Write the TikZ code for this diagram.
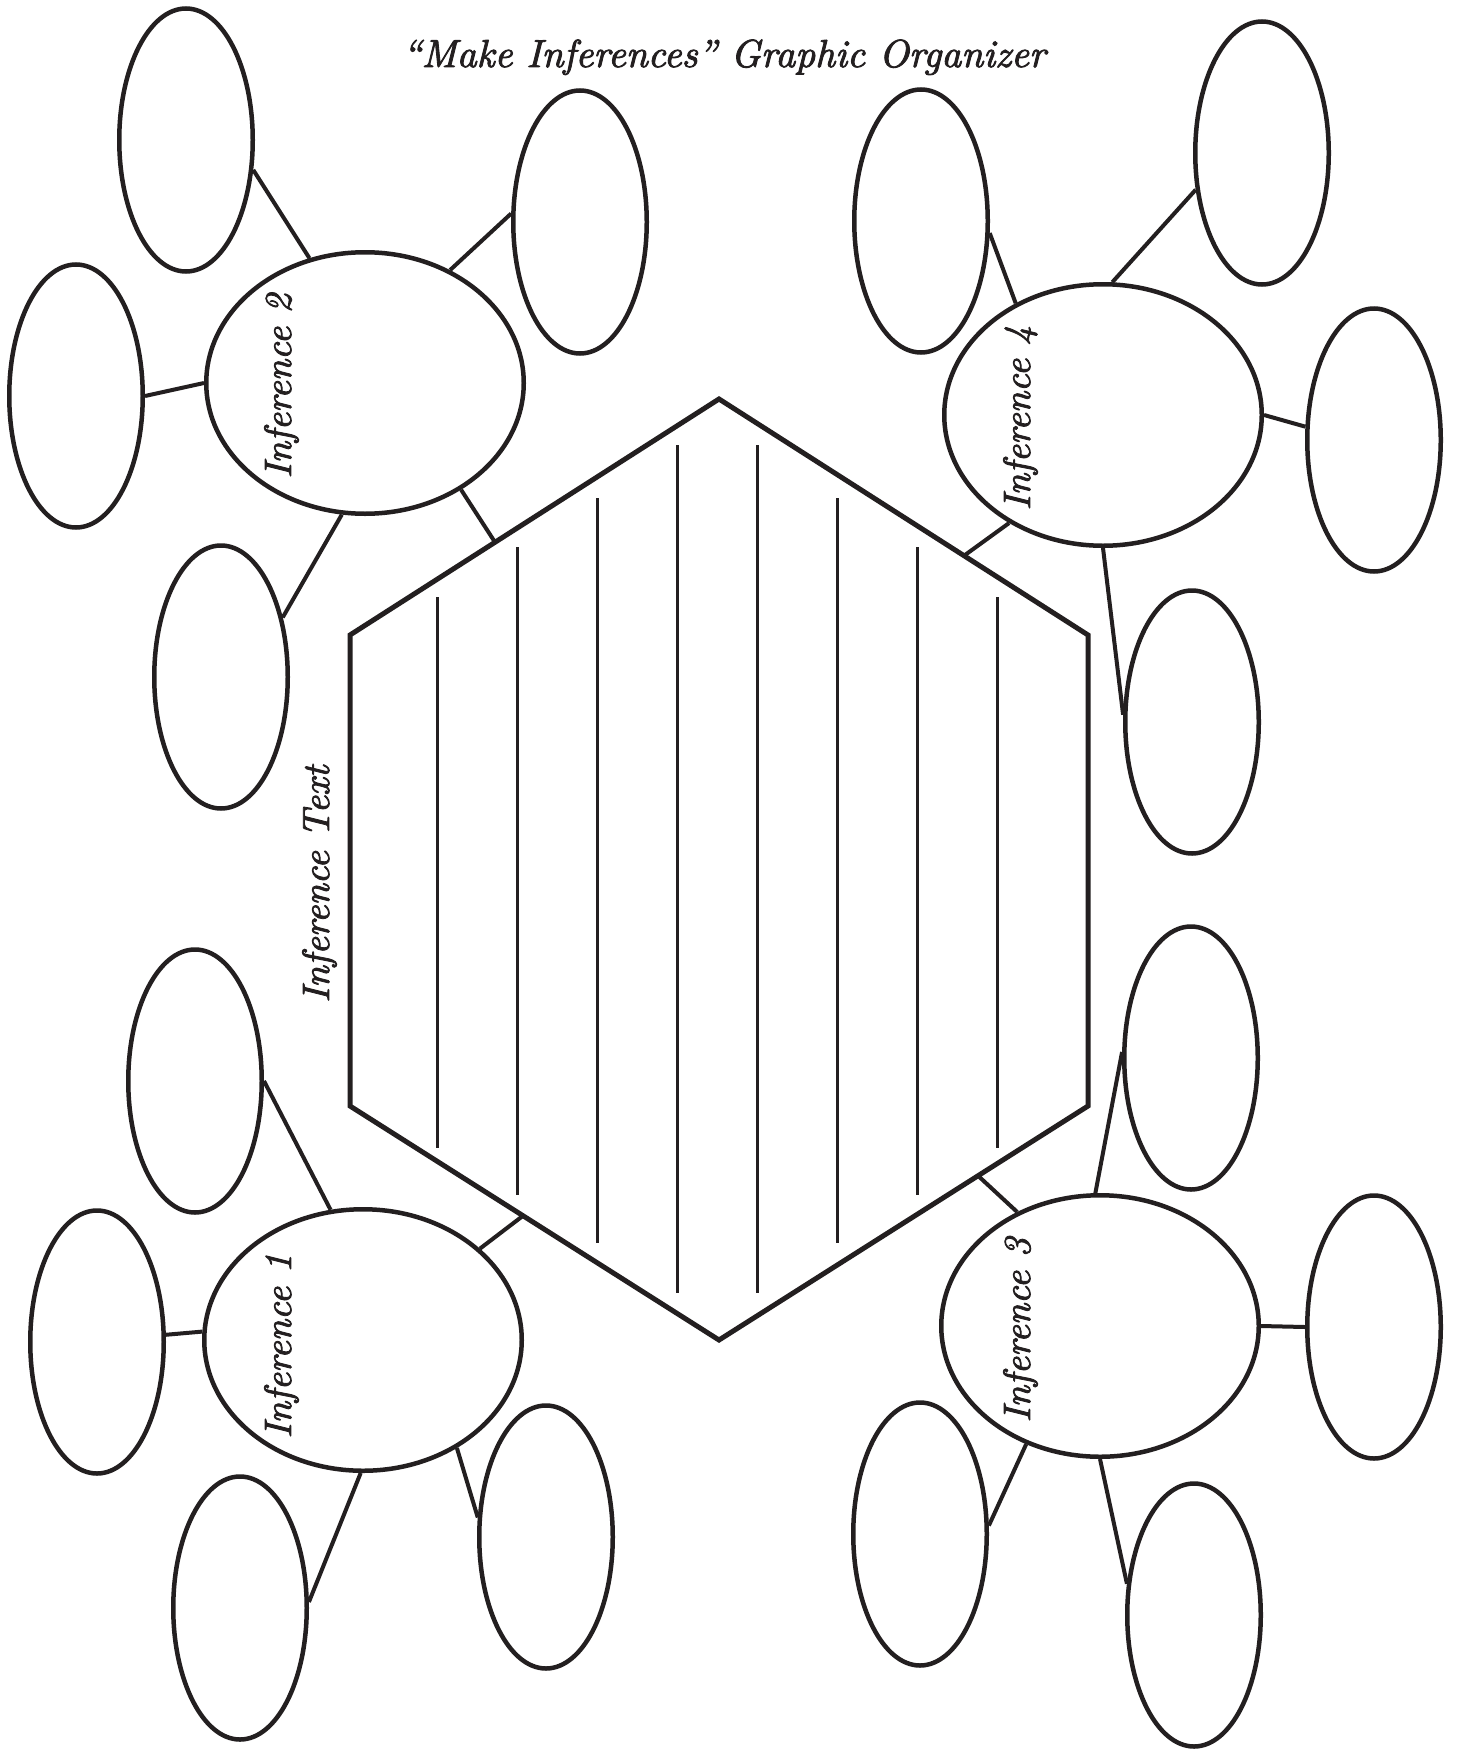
\documentclass[tikz,border=0pt]{standalone}
\usepackage{fontspec}
\newfontface\lblface{lmroman10-italic.otf}[FakeBold=2.2]
\usetikzlibrary{shapes.geometric,calc}
\definecolor{ink}{RGB}{35,31,32}
\begin{document}
\begin{tikzpicture}[x=1pt,y=-1pt,
  small/.style={ellipse,draw=ink,line width=4.5pt,minimum width=133.5pt,minimum height=263pt,inner sep=0pt},
  big/.style={ellipse,draw=ink,line width=4.5pt,minimum width=317.5pt,minimum height=261.5pt,inner sep=0pt},
  conn/.style={draw=ink,line width=4pt},
  lbl/.style={rotate=90,anchor=base,font=\lblface\fontsize{38}{45}\selectfont,text=ink,inner sep=0pt},
  ruling/.style={draw=ink,line width=2.3pt},
  hexline/.style={draw=ink,line width=5pt,line join=miter}]
\useasboundingbox (0,0) rectangle (1457,1750);
\fill[white] (0,0) rectangle (1457,1750);

% title
\node[anchor=base,font=\lblface\fontsize{39}{47}\selectfont,text=ink,inner sep=0pt] (title) at (724,67) {“Make Inferences” Graphic Organizer};

% hexagon
\coordinate (hT) at (719,399);
\coordinate (hUR) at (1088,635);
\coordinate (hLR) at (1088,1106);
\coordinate (hB) at (719,1340);
\coordinate (hLL) at (350,1106);
\coordinate (hUL) at (350,635);
\draw[hexline] (hT) -- (hUR) -- (hLR) -- (hB) -- (hLL) -- (hUL) -- cycle;
\coordinate (h2) at ($(hUL)!0.393!(hT)$);
\coordinate (h4) at ($(hT)!0.664!(hUR)$);
\coordinate (h1) at ($(hLL)!0.469!(hB)$);
\coordinate (h3) at ($(hLR)!0.298!(hB)$);

\foreach \x/\t/\b in {437.5/597/1148, 517.5/547/1195, 597.5/498/1243, 677.5/445/1293, 757.5/445/1293, 837.5/498/1243, 917.5/547/1195, 997.5/597/1148}
  \draw[ruling] (\x,\t) -- (\x,\b);

\node[lbl] (lt) at (329,884) {Inference Text};

% Inference 2 group
\node[small] (a2) at (186,140) {};
\node[small] (b2) at (76,396) {};
\node[big] (c2) at (365,383) {};
\node[small] (d2) at (221,677) {};
\node[small] (e2) at (580,222) {};
% Inference 4 group
\node[small] (a4) at (921,221) {};
\node[small] (b4) at (1262,153) {};
\node[big] (c4) at (1103,415) {};
\node[small] (d4) at (1374,440) {};
\node[small] (e4) at (1192,722) {};
% Inference 1 group
\node[small] (a1) at (195,1081) {};
\node[small] (b1) at (97,1342) {};
\node[big] (c1) at (363,1340) {};
\node[small] (d1) at (240,1608) {};
\node[small] (e1) at (546,1537) {};
% Inference 3 group
\node[small] (a3) at (1191,1058) {};
\node[big] (c3) at (1100,1326) {};
\node[small] (d3) at (1374,1327) {};
\node[small] (b3) at (920,1534) {};
\node[small] (e3) at (1194,1615) {};

% labels
\node[lbl] (l2) at (291,386) {Inference 2};
\node[lbl] (l4) at (1030,418) {Inference 4};
\node[lbl] (l1) at (291,1346) {Inference 1};
\node[lbl] (l3) at (1030,1330) {Inference 3};

% connectors
\draw[conn] (a2.-24) -- (c2.114);
\draw[conn] (b2.0) -- (c2.180);
\draw[conn] (e2.173) -- (c2.53);
\draw[conn] (d2.44) -- (c2.260);
\draw[conn] (c2.-48) -- (h2);

\draw[conn] (a4.-10) -- (c4.128);
\draw[conn] (b4.209) -- (c4.86);
\draw[conn] (c4.0) -- (d4.169);
\draw[conn] (c4.270) -- (e4.174);
\draw[conn] (c4.229) -- (h4);

\draw[conn] (a1.0) -- (c1.104);
\draw[conn] (b1.6) -- (c1.177);
\draw[conn] (c1.269) -- (d1.5);
\draw[conn] (c1.-49) -- (e1.164);
\draw[conn] (c1.38) -- (h1);

\draw[conn] (a3.175) -- (c3.92);
\draw[conn] (c3.0) -- (d3.180);
\draw[conn] (c3.238) -- (b3.7);
\draw[conn] (c3.270) -- (e3.155);
\draw[conn] (c3.126) -- (h3);
\end{tikzpicture}
\end{document}
